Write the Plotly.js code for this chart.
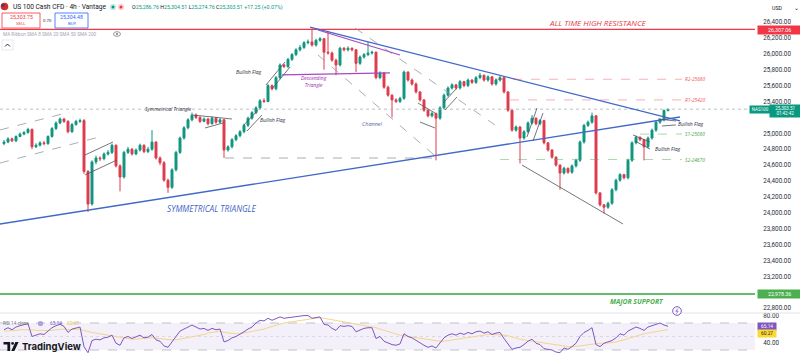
<!DOCTYPE html>
<html><head><meta charset="utf-8">
<script src="https://cdn.plot.ly/plotly-3.0.1.min.js"></script>
<style>html,body{margin:0;padding:0;background:#fff;overflow:hidden}#chart{width:800px;height:356px}</style>
</head><body><div id="chart"></div><script>
// ---------- DATA ----------
const open = [24870,24890,24930,24905,24960,24990,25010,25050,24830,24850,
 24880,24870,24960,25060,25130,25180,25150,25020,25110,25150,
 25160,24520,24110,24640,24690,24680,24740,24760,24850,24590,
 24450,24760,24800,24740,24790,24850,24770,24800,24890,24690,
 24630,24410,24320,24540,24760,24940,25070,25170,25230,25200,
 25150,25180,25120,25190,25140,25170,24790,24830,24920,24970,
 25020,25100,25190,25260,25320,25410,25400,25600,25560,25700,
 25860,25840,25930,25990,26050,26080,26140,26150,26110,26170,
 26190,26020,26010,25920,25860,26070,26050,26070,26050,25880,
 25960,25990,26010,26020,25700,25760,25580,25480,25420,25400,
 25440,25770,25670,25620,25520,25420,25290,25220,25250,25190,
 25320,25480,25570,25610,25570,25650,25600,25670,25640,25700,
 25730,25670,25710,25620,25670,25700,25520,25290,25040,25080,
 24940,25020,25130,25190,25120,25160,24880,24790,24700,24600,
 24500,24560,24510,24590,24660,24890,25100,25140,25220,24250,
 24100,24070,24120,24290,24410,24480,24440,24660,24880,24950,
 24920,24830,24940,25040,25140,25170,25286.76];
const high = [24915,24950,24945,24975,25010,25030,25070,25060,24875,24900,
 24905,24975,25080,25150,25200,25195,25165,25130,25170,25185,
 25180,24540,24660,24720,24710,24760,24790,24870,24860,24610,
 24780,24830,24815,24810,24870,24860,24830,25040,24900,24710,
 24650,24430,24560,24780,24960,25090,25190,25260,25250,25215,
 25200,25195,25215,25205,25190,25180,24850,24940,24990,25040,
 25120,25210,25280,25340,25430,25440,25620,25615,25720,25880,
 25875,25950,26010,26070,26110,26160,26180,26320,26190,26210,
 26200,26290,26030,25940,26090,26085,26095,26080,26060,25980,
 26010,26150,26040,26030,25780,25770,25600,25490,25440,25460,
 25790,25780,25690,25640,25530,25430,25300,25270,25260,25340,
 25500,25590,25630,25620,25670,25660,25690,25680,25720,25760,
 25740,25730,25720,25690,25720,25710,25530,25300,25100,25090,
 25040,25150,25230,25200,25180,25170,24890,24800,24710,24610,
 24580,24570,24610,24680,24910,25120,25160,25260,25230,24260,
 24110,24140,24310,24430,24500,24490,24680,24900,24970,24960,
 24930,24960,25060,25160,25190,25300,25304.51];
const low = [24850,24875,24890,24890,24950,24975,24995,24800,24815,24835,
 24850,24855,24945,25040,25115,25130,25000,25005,25095,25130,
 24490,24010,24090,24610,24650,24660,24720,24740,24570,24270,
 24430,24740,24720,24725,24770,24750,24750,24780,24670,24600,
 24390,24250,24300,24520,24740,24920,25050,25150,25180,25130,
 25140,25100,25110,25120,25125,24690,24770,24810,24900,24950,
 25000,25080,25170,25240,25300,25380,25390,25540,25540,25680,
 25820,25820,25910,25970,26030,26060,26120,26090,26090,26150,
 25800,25990,25900,25730,25840,26030,26030,26030,25770,25860,
 25940,25970,25990,25680,25680,25560,25460,25200,25380,25380,
 25420,25650,25600,25500,25400,25270,25200,25200,24660,25170,
 25300,25460,25550,25550,25550,25580,25580,25620,25620,25680,
 25650,25650,25600,25600,25650,25500,25270,25020,25020,24620,
 24920,25000,25110,25100,25100,24860,24770,24680,24580,24290,
 24480,24490,24490,24570,24640,24870,25080,25120,24230,24080,
 23990,24050,24100,24270,24390,24420,24420,24640,24860,24900,
 24660,24810,24920,25020,25120,25150,25274.76];
const close = [24890,24930,24905,24960,24990,25010,25050,24830,24850,24880,
 24870,24960,25060,25130,25180,25150,25020,25110,25150,25160,
 24520,24110,24640,24690,24680,24740,24760,24850,24590,24450,
 24760,24800,24740,24790,24850,24770,24800,24890,24690,24630,
 24410,24320,24540,24760,24940,25070,25170,25230,25200,25150,
 25180,25120,25190,25140,25170,24790,24830,24920,24970,25020,
 25100,25190,25260,25320,25410,25400,25600,25560,25700,25860,
 25840,25930,25990,26050,26080,26140,26150,26110,26170,26190,
 26020,26010,25920,25860,26070,26050,26070,26050,25880,25960,
 25990,26010,26020,25700,25760,25580,25480,25420,25400,25440,
 25770,25670,25620,25520,25420,25290,25220,25250,25190,25320,
 25480,25570,25610,25570,25650,25600,25670,25640,25700,25730,
 25670,25710,25620,25670,25700,25520,25290,25040,25080,24940,
 25020,25130,25190,25120,25160,24880,24790,24700,24600,24500,
 24560,24510,24590,24660,24890,25100,25140,25220,24250,24100,
 24070,24120,24290,24410,24480,24440,24660,24880,24950,24920,
 24830,24940,25040,25140,25170,25286.76,25303.51];
const rsi = [60,63,60,64,66,67,69,50,52,54,
 53,58,63,66,68,65,56,61,63,64,
 35,26,44,46,45,48,49,52,40,37,
 48,50,47,49,52,48,49,53,45,43,
 36,34,43,50,58,61,64,67,64,61,
 62,59,62,60,61,42,44,48,50,53,
 57,61,64,70,74,73,77,74,76,79,
 77,78,79,80,80,81,81,77,78,79,
 68,67,62,59,66,65,66,65,57,60,
 62,63,63,47,50,43,40,38,37,39,
 54,50,48,44,41,37,34,36,33,41,
 48,52,54,52,55,53,56,54,57,58,
 55,57,53,55,56,47,38,31,33,34,
 38,43,46,40,38,32,31,30,27,26,
 33,31,35,40,50,56,59,63,38,35,
 40,42,44,48,54,52,58,61,64,62,
 59,64,66,69,70,67,65.14];
const rsiMA = [58,58,59,59,60,60,61,60,59,59,
 58,58,59,60,61,61,60,60,61,61,
 59,57,56,55,54,53,52,50,49,48,
 47,47,46,46,47,47,48,48,48,47,
 46,45,45,45,46,47,48,49,51,52,
 53,55,56,57,58,56,55,54,54,54,
 55,56,57,58,60,61,63,65,66,68,
 70,71,72,73,74,75,76,77,77,78,
 77,76,75,74,73,72,71,70,69,68,
 67,66,65,63,61,59,57,55,53,52,
 51,50,49,48,47,46,45,44,43,43,
 43,44,45,46,47,48,49,50,51,52,
 52,53,53,53,53,52,51,49,47,46,
 45,44,43,42,41,40,39,38,37,36,
 35,35,35,35,36,37,38,39,40,40,
 40,40,41,42,43,45,47,49,51,53,
 54,55,56,57,58,59,60.27];

const priceTicks = [22800,23200,23400,23600,23800,24000,24200,24400,24600,24800,25000,25400,25600,25800,26000,26200,26400];
const rsiTicks = [40,80];
const athLevel = 26307.06;
const supportLevel = 22978.36;
const lastPrice = 25303.51;
const ohlcLabels = ['O','H','L','C'];
const ohlcValues = [25286.76,25304.51,25274.76,25303.51];
const change = 17.25, changePct = 0.07;
const sellPrice = 25303.75, buyPrice = 25304.48, spreadText = '0.70';
const levelNames = ['R2-25680','R1-25420','S1-25080','S2-24670'];
const levelPrices = [25680,25420,24990,24670];
const levelStart = [122.75,126.5,159,124];
// trendlines [i0, p0, i1, p1]
const triLower = [-1,23859,169,25205];
const triUpper = [76.5,26337,169,25155];
const descUpper = [78.5,26300,99,25985];
const descBase = [69.5,25734,96.5,25759];
const channelA = [78.5,25985,109,24664];
const channelB = [87.75,26325,122.75,25105];
const leftChanTop = [-1,25042,16.5,25268];
const leftChanBot = [-1,24626,24.75,24966];
const dashedLow = [55.25,24689,109,24689];
const flagLines = [
 [20.25,24727,27.25,24891],[20.25,24476,28.25,24664],
 [47.25,25230,57,25180],[50.25,25067,54.75,25130],
 [59.75,25092,63.5,25293],[60.75,25029,64.5,25230],
 [65.5,25608,70.25,25897],[67,25557,71.5,25834],
 [103.5,25381,107.75,25255],[104,25142,107.75,25067],
 [109.75,25381,113.25,25570],[110.25,25293,113.25,25457],
 [130.75,24954,133.25,25318],[132.25,24903,134.75,25255],
 [157.25,24979,161.5,24891],[157.75,24903,161.5,24802],
 [163.5,25180,168,25155],[164.5,25092,168,25105],
 [129.5,24601,154.75,23859]
];
const rsiLevels = [70,50,30];

// ---------- BUILD ----------
const idx = close.map((_, i) => i);
const W = 800, H = 356;
const PX = p => p / W, PY = p => 1 - p / H;
const XD = 755 / W;
const UP = '#109680', DN = '#de3c4d';

const traces = [
 {type:'candlestick', x: idx, open: open, high: high, low: low, close: close, xaxis:'x', yaxis:'y',
  increasing:{line:{color:UP,width:1}, fillcolor:UP},
  decreasing:{line:{color:DN,width:1}, fillcolor:DN},
  whiskerwidth:0, hoverinfo:'skip', showlegend:false},
 {type:'scatter', mode:'lines', x: idx, y: rsiMA, xaxis:'x', yaxis:'y2', line:{color:'#f4d48e', width:1}, hoverinfo:'skip', showlegend:false},
 {type:'scatter', mode:'lines', x: idx, y: rsi, xaxis:'x', yaxis:'y2', line:{color:'#7e57c2', width:1}, hoverinfo:'skip', showlegend:false}
];

const shapes = [];
const seg = (a, color, width, dash) => shapes.push({type:'line', xref:'x', yref:'y', x0:a[0], y0:a[1], x1:a[2], y1:a[3], line:{color:color, width:width, dash:dash||'solid'}});
shapes.push({type:'rect', xref:'paper', yref:'y2', x0:0, x1:XD, y0:30, y1:70, fillcolor:'rgba(126,87,194,0.09)', line:{width:0}, layer:'below'});
rsiLevels.forEach((v, k) => shapes.push({type:'line', xref:'paper', yref:'y2', x0:0, x1:XD, y0:v, y1:v, line:{color: k===1 ? 'rgba(120,123,134,0.25)' : '#b2b5be', width:0.8, dash: k===1 ? 'dot' : 'dash'}, layer:'below'}));
shapes.push({type:'line', xref:'paper', yref:'paper', x0:0, x1:1, y0:PY(313), y1:PY(313), line:{color:'#e0e3eb', width:1}});
shapes.push({type:'line', xref:'paper', yref:'y', x0:0, x1:XD, y0:lastPrice, y1:lastPrice, line:{color:'#a7b0b3', width:0.8, dash:'dot'}});
shapes.push({type:'line', xref:'paper', yref:'y', x0:0, x1:XD, y0:athLevel, y1:athLevel, line:{color:'#f23645', width:1.3}});
shapes.push({type:'line', xref:'paper', yref:'y', x0:0, x1:XD, y0:supportLevel, y1:supportLevel, line:{color:'#66bb6a', width:2}});
seg(leftChanTop, '#9598a1', 0.8, 'dash');
seg(leftChanBot, '#9598a1', 0.8, 'dash');
seg(dashedLow, '#9598a1', 0.8, 'dash');
seg(channelA, '#9598a1', 0.8, 'dash');
seg(channelB, '#9598a1', 0.8, 'dash');
seg(triLower, '#4169c8', 1.3);
seg(triUpper, '#4169c8', 1.3);
seg(descUpper, '#a548c4', 1.2);
seg(descBase, '#a548c4', 1.2);
flagLines.forEach(f => seg(f, '#50535e', 0.8));
levelNames.forEach((n, k) => {
  const isR = n[0] === 'R';
  seg([levelStart[k], levelPrices[k], 169.5, levelPrices[k]], isR ? 'rgba(242,54,69,0.5)' : 'rgba(76,175,80,0.6)', 0.8, 'dash');
});
const box = (x0,y0,x1,y1,color,fill,w) => shapes.push({type:'rect', xref:'paper', yref:'paper', x0:PX(x0), x1:PX(x1), y0:PY(y1), y1:PY(y0), line:{color:color, width:w||0.8}, fillcolor:fill||'rgba(0,0,0,0)'});
const circ = (cx,cy,r,color,fill,w) => shapes.push({type:'circle', xref:'paper', yref:'paper', x0:PX(cx-r), x1:PX(cx+r), y0:PY(cy+r), y1:PY(cy-r), line:{color:color, width:w===undefined?0.8:w}, fillcolor:fill||'rgba(0,0,0,0)'});
const path = (pts, fill, color, w) => shapes.push({type:'path', xref:'paper', yref:'paper', path: pts.map((p,k)=>(k?'L':'M')+PX(p[0])+','+PY(p[1])).join(' ') + (fill ? ' Z' : ''), fillcolor: fill || 'rgba(0,0,0,0)', line:{color: color || fill, width: w===undefined?0:w}});
box(2,13,40,28,'#f23645','#fff');
box(55,13,88,28,'#2962ff','#fff');
circ(4.5,6.5,3.8,'#d22f27','#d22f27',0);
path([[1.2,4.2],[4.5,4.2],[4.5,6.6],[1.2,6.6]], '#3c3b6e');
circ(113,7,3.2,'rgba(0,0,0,0)','#c8ebe3',0);
circ(113,7,1.5,'rgba(0,0,0,0)','#089981',0);
circ(121,7,3.2,'rgba(0,0,0,0)','#fbd3d7',0);
circ(121,7,1.5,'rgba(0,0,0,0)','#f23645',0);
shapes.push({type:'circle', xref:'paper', yref:'paper', x0:PX(113.5), x1:PX(120.5), y0:PY(36.3), y1:PY(31.7), line:{color:'#787b86', width:0.8}});
circ(117,34,1,'rgba(0,0,0,0)','#787b86',0);
box(2,40,13,50,'#e0e3eb','#fff');
path([[5,46.5],[7.5,44],[10,46.5]], null, '#131722', 0.9);
circ(677,311,4.3,'#7e57c2','#fff',1);
path([[677.8,308.5],[675.8,311.3],[678.2,311],[676.4,313.6]], null, '#7e57c2', 0.8);
path([[3.5,342],[10.2,342],[10.2,351],[7.4,351],[7.4,344.6],[3.5,344.6]], '#131722');
circ(12.6,343.4,1.35,'rgba(0,0,0,0)','#131722',0);
path([[11.2,351],[14.4,351],[18.6,342],[15.4,342]], '#131722');

const ann = [];
const dtext = (i, p, text, size, color, opts) => ann.push(Object.assign({xref:'x', yref:'y', x:i, y:p, text:text, showarrow:false, font:{size:size, color:color, family:'Open Sans, sans-serif'}, xanchor:'center', yanchor:'middle'}, opts||{}));
const ptext = (px, py, text, size, color, opts) => ann.push(Object.assign({xref:'paper', yref:'paper', x:PX(px), y:PY(py), text:text, showarrow:false, font:{size:size, color:color, family:'Roboto, sans-serif'}, xanchor:'left', yanchor:'middle'}, opts||{}));

dtext(148.5, 26400, '<i>ALL TIME HIGH RESISTANCE</i>', 8, '#e53946');
dtext(158.25, 22878, '<i><b>MAJOR SUPPORT</b></i>', 6.8, '#4caf50');
dtext(51.9, 24060, '<i>SYMMETRICAL TRIANGLE</i>', 8.3, '#3f66c4');
dtext(41.1, 25306, '<i>Symmetrical Triangle</i>', 5, '#2a2e39');
dtext(61, 25771, '<i>Bullish Flag</i>', 5, '#2a2e39');
dtext(67.1, 25167, '<i>Bullish Flag</i>', 5, '#2a2e39');
dtext(171.6, 25117, '<i>Bullish Flag</i>', 5, '#2a2e39');
dtext(165.9, 24803, '<i>Bullish Flag</i>', 5, '#2a2e39');
dtext(77.4, 25652, '<i>Descending<br>Triangle</i>', 5, '#9c27b0');
dtext(92, 25117, '<i>Channel</i>', 5.5, '#5468a8');
levelNames.forEach((n, k) => dtext(172.75, levelPrices[k], '<i>' + n + '</i>', 4.8, n[0] === 'R' ? '#ef5350' : '#43a047'));

ptext(10.5, 7, 'US 100 Cash CFD · 4h · Vantage', 6.6, '#131722');
const g = s => '<span style="color:#089981">' + s + '</span>';
const fmt = v => v.toLocaleString('en-US', {minimumFractionDigits:2, maximumFractionDigits:2});
ptext(130, 7.2, ohlcLabels.map((l, k) => l + g(fmt(ohlcValues[k]))).join(' ') + ' ' + g('+' + fmt(change) + ' (+' + fmt(changePct) + '%)'), 5.3, '#131722');
ptext(21, 17, fmt(sellPrice), 5.2, '#f23645', {xanchor:'center'});
ptext(21, 24, 'SELL', 4.3, '#f23645', {xanchor:'center'});
ptext(47.5, 20.5, spreadText, 4.3, '#2a2e39', {xanchor:'center'});
ptext(71.5, 17, fmt(buyPrice), 5.2, '#2962ff', {xanchor:'center'});
ptext(71.5, 24, 'BUY', 4.3, '#2962ff', {xanchor:'center'});
ptext(0.5, 34.5, 'MA Ribbon SMA 8 SMA 20 SMA 50 SMA 200', 4.7, '#a3a6af');
ptext(770, 8, 'USD', 5.3, '#131722');
ptext(792, 7.5, '⌄', 6, '#131722');
ptext(0.5, 323.5, 'RSI 14 close', 4.7, '#787b86');
circ(40.5,323.5,2.6,'rgba(0,0,0,0)','#b39ddb',0);
ptext(48, 323.5, '65.14', 4.8, '#7e57c2');
ptext(65, 323.5, '60.27', 4.8, '#e8c547');
ptext(20, 346.5, '<b>TradingView</b>', 9.5, '#131722', {font:{size:9.5, color:'#131722', family:'Inter, Roboto, sans-serif'}});
const tag = (py, text, bg, fg, x0, w, size, pad) => ptext(x0, py, text, size || 5.3, fg, {bgcolor:bg, width:w, align:'center', borderpad:pad===undefined?1.2:pad, xanchor:'left'});
tag(30, fmt(athLevel), '#f23645', '#fff', 757, 41);
tag(294, fmt(supportLevel), '#4caf50', '#fff', 757, 41);
tag(110, 'NAS100', '#089981', '#fff', 749, 18, 4.5);
tag(111.5, fmt(lastPrice) + '<br>01:42:42', '#089981', '#fff', 769, 29, 4.5, 0.6);
tag(326.5, fmt(rsi[rsi.length-1]), '#7e57c2', '#fff', 757, 16, 4.8);
tag(333.5, fmt(rsiMA[rsiMA.length-1]), '#fdd835', '#131722', 757, 16, 4.8);

const layout = {
 width:W, height:H, margin:{l:0,r:0,t:0,b:0}, paper_bgcolor:'#fff', plot_bgcolor:'#fff', showlegend:false,
 font:{family:'Roboto, sans-serif', color:'#131722'},
 xaxis:{domain:[0, XD], range:[-1, 187.75], visible:false, rangeslider:{visible:false}, fixedrange:true, anchor:'y2'},
 yaxis:{domain:[44/H, 1], range:[22752, 26677], side:'right', anchor:'x', tickvals:priceTicks, tickformat:',.2f',
   tickfont:{size:6.3, color:'#2a2e39'}, showgrid:false, zeroline:false, showline:false, ticks:'outside', ticklen:6, tickcolor:'rgba(0,0,0,0)'},
 yaxis2:{domain:[0, 43/H], range:[21.1, 84.8], side:'right', anchor:'x', tickvals:rsiTicks, tickformat:'.2f',
   tickfont:{size:6.3, color:'#2a2e39'}, showgrid:false, zeroline:false, showline:false, ticks:'outside', ticklen:6, tickcolor:'rgba(0,0,0,0)'},
 shapes:shapes, annotations:ann
};
Plotly.newPlot('chart', traces, layout, {displayModeBar:false, staticPlot:true});
</script></body></html>
